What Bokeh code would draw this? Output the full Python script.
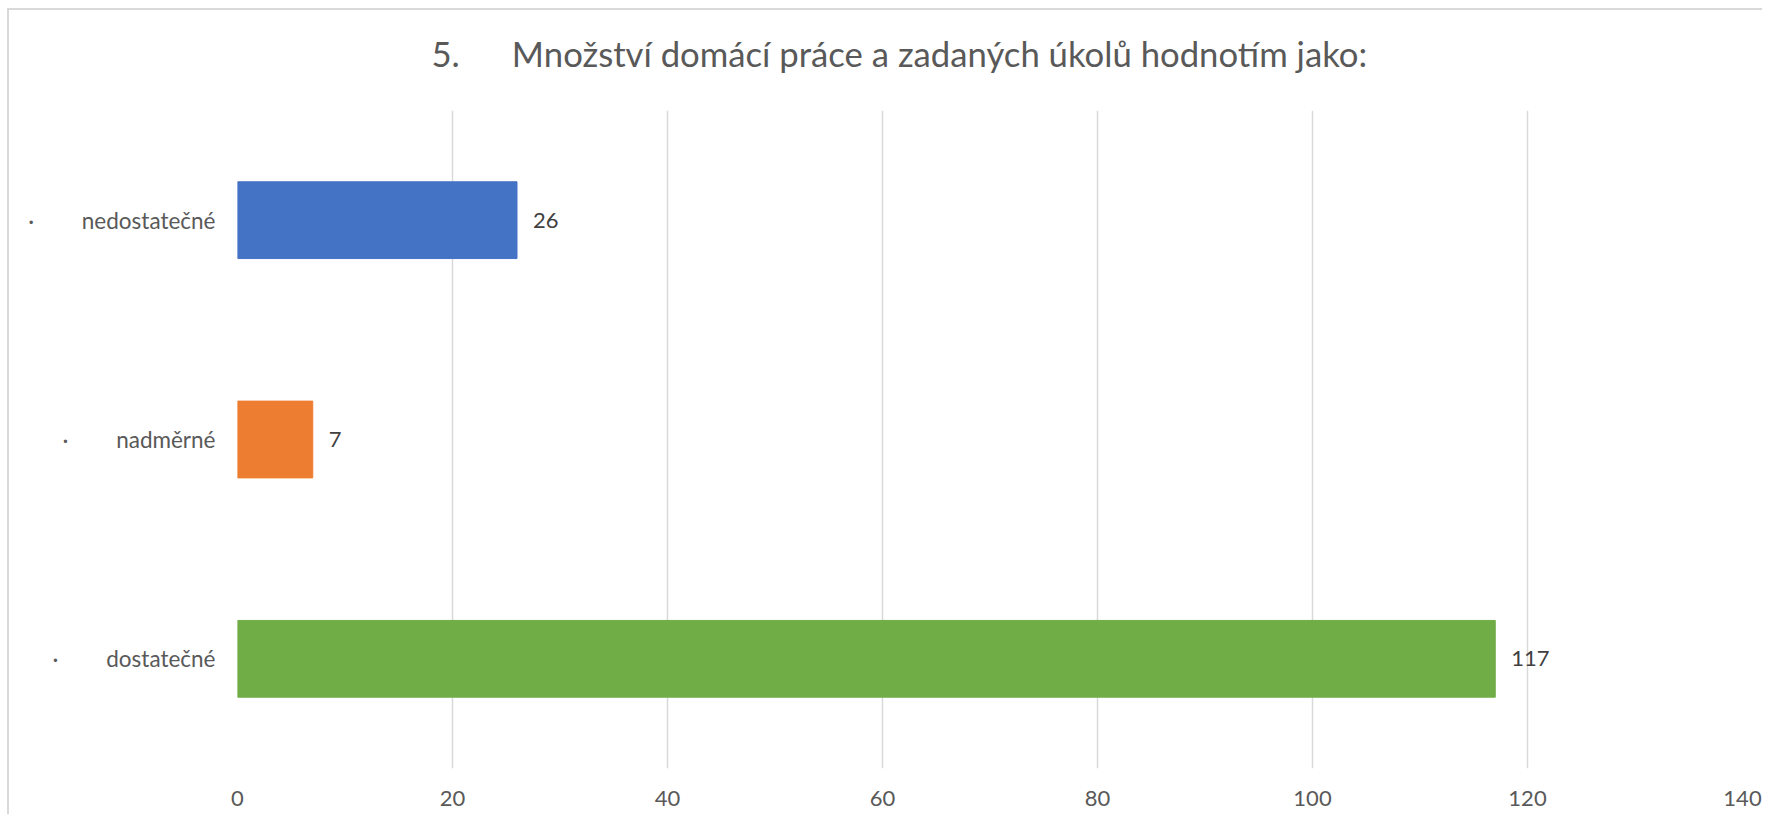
from bokeh.plotting import figure
from bokeh.models import FactorRange, Range1d, ColumnDataSource, LabelSet, FixedTicker, LinearAxis
from bokeh.core.properties import value
from bokeh.embed import file_html
from bokeh.resources import INLINE

title_text = "5.\u2002\u2002\u2002Množství domácí práce a zadaných úkolů hodnotím jako:"
categories = ["nedostatečné", "nadměrné", "dostatečné"]
values = [26, 7, 117]
colors = ["#4472C4", "#ED7D31", "#70AD47"]
x_ticks = [0, 20, 40, 60, 80, 100, 120, 140]

FONT = "Lato"
factors = ["·\u2003\u2003\u2002\u2009" + c for c in categories]
src = ColumnDataSource(dict(cat=factors, val=values, color=colors,
                            lab=[str(v) for v in values]))

p = figure(width=1755, height=806, output_backend="svg", toolbar_location=None,
           y_range=FactorRange(factors=factors[::-1]),
           x_range=Range1d(0, 140),
           min_border_left=228, min_border_right=22, min_border_top=100, min_border_bottom=48,
           styles={"border-left": "2px solid #D9D9D9", "border-top": "2px solid #D9D9D9",
                   "margin-left": "7px", "margin-top": "8px"})

p.hbar(y="cat", right="val", left=0, height=0.35, color="color", source=src)
p.add_layout(LabelSet(x="val", y="cat", text="lab", source=src, x_offset=16,
                      text_baseline="middle", text_align="left", text_font=value(FONT),
                      text_font_size="22px", text_color="#404040"))

bottom_axis = p.below[0]
bottom_axis.ticker = FixedTicker(ticks=x_ticks)

# invisible spacer between title and plot area (one hidden tick, empty label)
spacer = LinearAxis(ticker=FixedTicker(ticks=[0]), axis_line_color=None,
                    major_tick_line_color=None, minor_tick_line_color=None,
                    major_tick_out=14, minor_tick_out=0, major_tick_in=0, minor_tick_in=0,
                    major_label_standoff=0, major_label_overrides={0: ""})
p.add_layout(spacer, "above")

p.title.text = title_text
p.title.text_font = FONT
p.title.text_font_size = "34.7px"
p.title.text_font_style = "normal"
p.title.text_color = "#595959"
p.title.align = "left"
p.title.offset = 194
p.title.vertical_align = "top"
p.title.standoff = 42

p.outline_line_color = None
p.ygrid.grid_line_color = None
p.xgrid.grid_line_color = "#D9D9D9"
p.xgrid.grid_line_width = 1.5
for ax in (bottom_axis, p.yaxis[0]):
    ax.axis_line_color = None
    ax.major_tick_line_color = None
    ax.minor_tick_line_color = None
    ax.major_label_text_font = FONT
    ax.major_label_text_font_size = "22px"
    ax.major_label_text_color = "#595959"
p.yaxis.major_label_text_font_size = "22.5px"
bottom_axis.major_label_standoff = 16
p.yaxis.major_label_standoff = 16
p.y_range.range_padding = 0
p.y_range.group_padding = 0

open("out.html", "w").write(file_html(p, INLINE))
